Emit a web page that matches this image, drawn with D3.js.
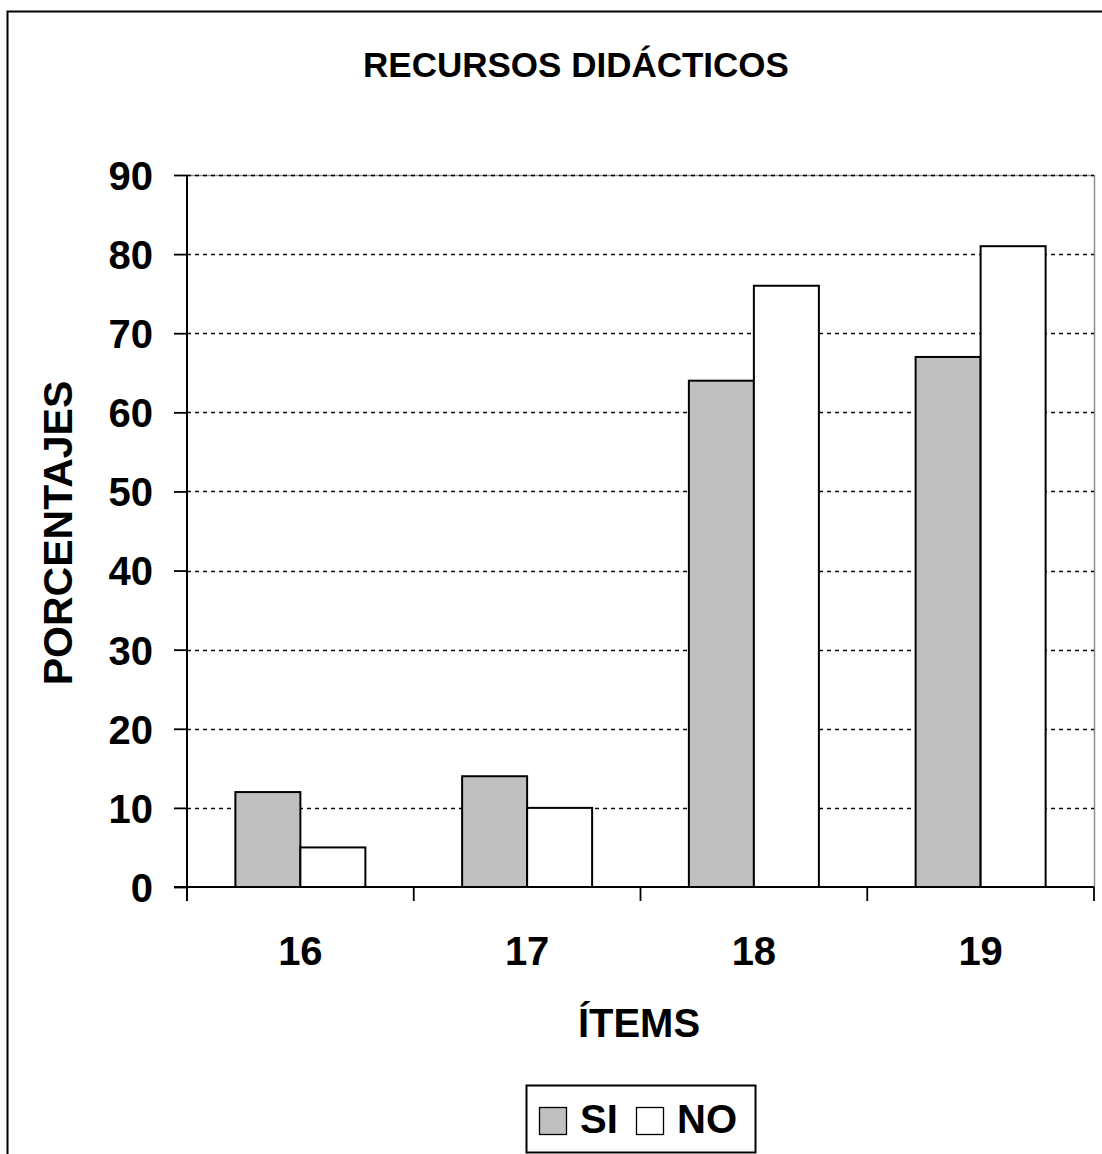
<!DOCTYPE html>
<html>
<head>
<meta charset="utf-8">
<script src="https://cdn.jsdelivr.net/npm/d3@7"></script>
<style>
  html, body { margin: 0; padding: 0; background: #fff; }
  svg { display: block; }
  text { font-family: "Liberation Sans", Arial, Helvetica, sans-serif; font-weight: bold; fill: #000; }
</style>
</head>
<body>
<script>
// Chart data
const items = ["16", "17", "18", "19"];
const seriesNames = ["SI", "NO"];
const siValues = [12, 14, 64, 67];
const noValues = [5, 10, 76, 81];
const yTicks = [0, 10, 20, 30, 40, 50, 60, 70, 80, 90];
const seriesFill = { SI: "#c0c0c0", NO: "#ffffff" };

const W = 1102, H = 1154;
const plot = { left: 187, right: 1094, top: 175, bottom: 887 };

const svg = d3.select("body").append("svg")
  .attr("width", W).attr("height", H);

// outer chart frame
svg.append("rect")
  .attr("x", 7.5).attr("y", 11.5)
  .attr("width", 1110).attr("height", 1160)
  .attr("fill", "#fff").attr("stroke", "#000").attr("stroke-width", 2);

const x0 = d3.scaleBand()
  .domain(items)
  .range([plot.left, plot.right])
  .paddingInner(0.4267)
  .paddingOuter(0.4267 / 2);

const x1 = d3.scaleBand()
  .domain(seriesNames)
  .range([0, x0.bandwidth()]);

const y = d3.scaleLinear()
  .domain([0, 90])
  .range([plot.bottom, plot.top]);

// plot area border (top and right)
svg.append("path")
  .attr("d", `M${plot.left},${plot.top + 0.5}H${plot.right + 0.5}V${plot.bottom}`)
  .attr("fill", "none").attr("stroke", "#909090").attr("stroke-width", 1.5);

// dotted gridlines
svg.append("g")
  .selectAll("line")
  .data(yTicks.filter(d => d > 0))
  .join("line")
  .attr("x1", plot.left).attr("x2", plot.right)
  .attr("y1", d => Math.round(y(d)) + 0.5)
  .attr("y2", d => Math.round(y(d)) + 0.5)
  .attr("stroke", "#000").attr("stroke-width", 1.5)
  .attr("stroke-dasharray", "4,4");

// bars
const rows = items.map((it, i) => ({ item: it, values: [
  { key: "SI", value: siValues[i] },
  { key: "NO", value: noValues[i] }
]}));

svg.append("g")
  .selectAll("g")
  .data(rows)
  .join("g")
  .attr("transform", d => `translate(${x0(d.item)},0)`)
  .selectAll("rect")
  .data(d => d.values)
  .join("rect")
  .attr("x", d => x1(d.key))
  .attr("y", d => y(d.value))
  .attr("width", x1.bandwidth())
  .attr("height", d => y(0) - y(d.value))
  .attr("fill", d => seriesFill[d.key])
  .attr("stroke", "#000").attr("stroke-width", 2);

// y axis
const yAxis = d3.axisLeft(y).tickValues(yTicks).tickSize(13).tickPadding(21);
const gy = svg.append("g")
  .attr("transform", `translate(${plot.left},0)`)
  .call(yAxis);
gy.select(".domain").attr("d", `M0,${plot.top}V${plot.bottom + 14}`)
  .attr("stroke", "#000").attr("stroke-width", 2);
gy.selectAll(".tick line").attr("stroke", "#000").attr("stroke-width", 1.8);
gy.selectAll(".tick text")
  .attr("font-size", 40).attr("font-weight", "bold")
  .attr("font-family", "Liberation Sans, Arial, sans-serif")
  .attr("fill", "#000").attr("dy", "0.36em");

// x axis line and ticks at category boundaries
const boundaries = [plot.left, ...items.map(it => x0(it) + x0.bandwidth() + x0.step() * x0.paddingInner() / 2)];
const gx = svg.append("g");
gx.append("line")
  .attr("x1", plot.left - 13).attr("x2", plot.right)
  .attr("y1", plot.bottom).attr("y2", plot.bottom)
  .attr("stroke", "#000").attr("stroke-width", 2);
gx.selectAll("line.tk")
  .data(boundaries)
  .join("line").attr("class", "tk")
  .attr("x1", d => d).attr("x2", d => d)
  .attr("y1", plot.bottom).attr("y2", plot.bottom + 14)
  .attr("stroke", "#000").attr("stroke-width", 1.8);
gx.selectAll("text")
  .data(items)
  .join("text")
  .attr("x", d => x0(d) + x0.bandwidth() / 2)
  .attr("y", 965)
  .attr("text-anchor", "middle")
  .attr("font-size", 40)
  .text(d => d);

// title
svg.append("text")
  .attr("x", 576).attr("y", 77)
  .attr("text-anchor", "middle")
  .attr("font-size", 35)
  .text("RECURSOS DIDÁCTICOS");

// axis titles
svg.append("text")
  .attr("x", 639).attr("y", 1037)
  .attr("text-anchor", "middle")
  .attr("font-size", 40)
  .text("ÍTEMS");

svg.append("text")
  .attr("transform", "translate(72,533) rotate(-90)")
  .attr("text-anchor", "middle")
  .attr("font-size", 41)
  .text("PORCENTAJES");

// legend
const lg = svg.append("g");
lg.append("rect")
  .attr("x", 526.5).attr("y", 1085.5)
  .attr("width", 229).attr("height", 67)
  .attr("fill", "#fff").attr("stroke", "#000").attr("stroke-width", 2);
const legendItems = [
  { key: "SI", sx: 539, tx: 580 },
  { key: "NO", sx: 636, tx: 677 }
];
legendItems.forEach(li => {
  lg.append("rect")
    .attr("x", li.sx + 0.5).attr("y", 1107.5)
    .attr("width", 27).attr("height", 27)
    .attr("fill", seriesFill[li.key]).attr("stroke", "#000").attr("stroke-width", 1.3);
  lg.append("text")
    .attr("x", li.tx).attr("y", 1133)
    .attr("font-size", 40)
    .text(li.key);
});
</script>
</body>
</html>
